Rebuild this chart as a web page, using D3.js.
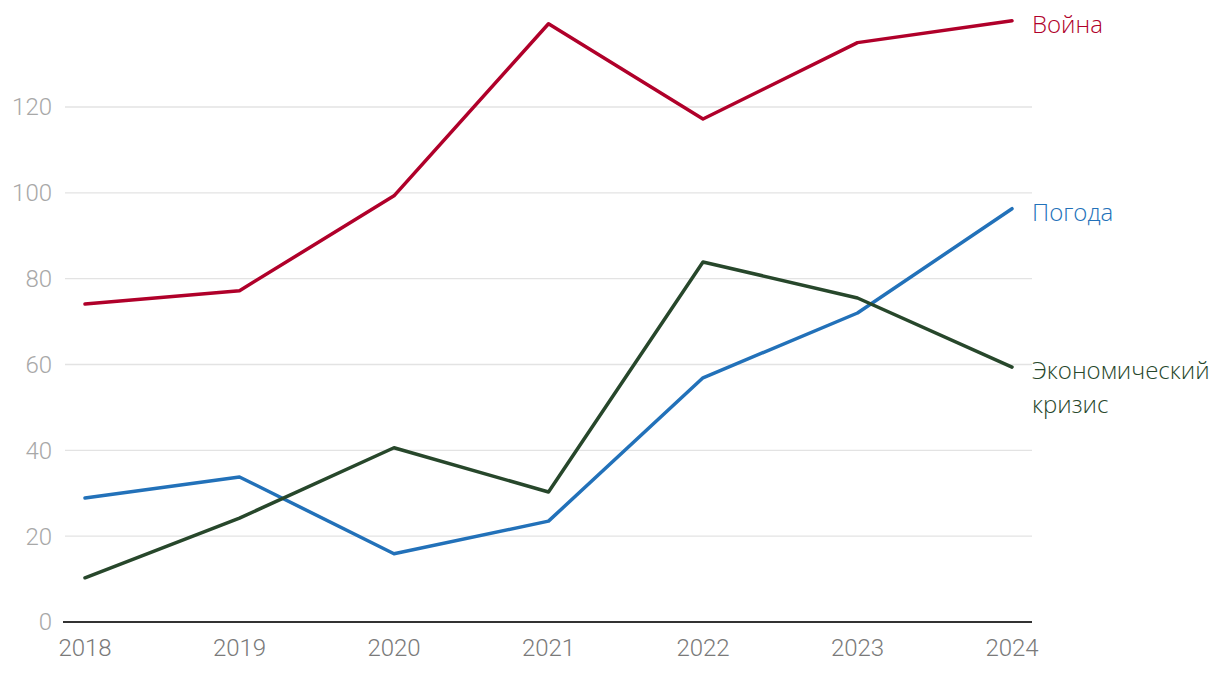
<!DOCTYPE html>
<html><head><meta charset="utf-8">
<script src="https://cdn.jsdelivr.net/npm/d3@7"></script>
<style>
html,body{margin:0;padding:0;background:#fff;}
svg{display:block;font-family:"Open Sans",sans-serif;}
</style></head>
<body><svg id="c" width="1220" height="674"></svg>
<script>
const years = [2018, 2019, 2020, 2021, 2022, 2023, 2024];
const war = [74.1, 77.2, 99.3, 139.4, 117.2, 135.0, 140.1];
const weather = [28.9, 33.8, 15.9, 23.5, 56.9, 72.0, 96.3];
const crisis = [10.3, 24.2, 40.6, 30.3, 83.9, 75.5, 59.4];
const yTicks = [0, 20, 40, 60, 80, 100, 120];
const seriesNames = ["Война", "Погода", ["Экономический", "кризис"]];
const colors = ["#b0002a", "#2271b9", "#27472b"];

const svg = d3.select("#c");
const x = d3.scalePoint().domain(years).range([85, 1012]);
const y = d3.scaleLinear().domain([0, 120]).range([622, 107]);

// gridlines
svg.append("g").selectAll("line").data(yTicks.filter(d => d > 0)).join("line")
  .attr("x1", 65).attr("x2", 1032)
  .attr("y1", d => y(d)).attr("y2", d => y(d))
  .attr("stroke", "#e3e3e3").attr("stroke-width", 1.3);

// y labels
svg.append("g").selectAll("text").data(yTicks).join("text")
  .attr("x", 52).attr("y", d => y(d)).attr("dy", "0.35em")
  .attr("text-anchor", "end").attr("font-family", "Roboto").attr("font-size", 24).attr("font-weight", 300)
  .attr("fill", "#a8a8a8").text(d => d);

// baseline
svg.append("line").attr("x1", 63).attr("x2", 1032).attr("y1", y(0)).attr("y2", y(0))
  .attr("stroke", "#333").attr("stroke-width", 2);

// x labels
svg.append("g").selectAll("text").data(years).join("text")
  .attr("x", d => x(d)).attr("y", 656)
  .attr("text-anchor", "middle").attr("font-family", "Roboto").attr("font-size", 24).attr("font-weight", 300)
  .attr("fill", "#7a7a7a").text(d => d);

const line = d3.line().x((d, i) => x(years[i])).y(d => y(d));
const data = [war, weather, crisis];
data.forEach((s, i) => {
  svg.append("path").attr("d", line(s)).attr("fill", "none")
    .attr("stroke", colors[i]).attr("stroke-width", 3.5)
    .attr("stroke-linejoin", "round").attr("stroke-linecap", "round");
});

// labels
const labelX = 1032;
data.forEach((s, i) => {
  const name = seriesNames[i];
  const lines = Array.isArray(name) ? name : [name];
  const t = svg.append("text").attr("x", labelX).attr("y", y(s[s.length - 1]) + 12)
    .attr("font-size", 24).attr("font-weight", 300).attr("fill", colors[i]);
  lines.forEach((ln, j) => {
    t.append("tspan").attr("x", labelX).attr("dy", j === 0 ? 0 : 34).text(ln);
  });
});
</script></body></html>
